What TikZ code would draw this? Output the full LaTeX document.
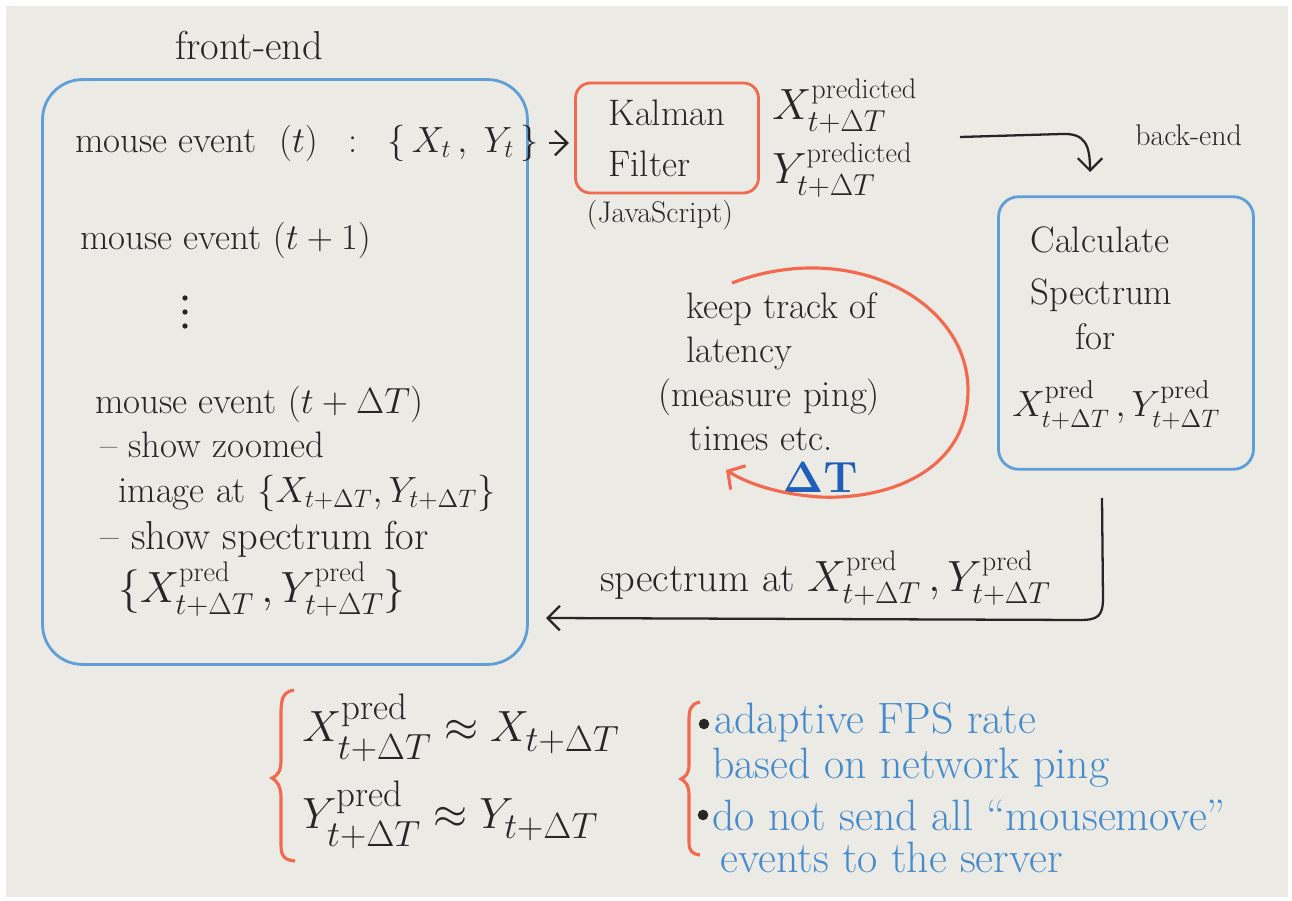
\documentclass[tikz,border=0pt]{standalone}
\usepackage{amsmath}
\usepackage{amssymb}
\usepackage{tikz}
\usetikzlibrary{arrows.meta}
\usetikzlibrary{positioning}
\definecolor{paper}{RGB}{236, 234, 228}
\definecolor{ink}{RGB}{38, 38, 38}
\definecolor{pencilblue}{RGB}{95, 158, 215}
\definecolor{pencilred}{RGB}{242, 105, 80}
\definecolor{deltablue}{RGB}{30, 95, 185}
\definecolor{noteblue}{RGB}{70, 140, 205}
\tikzset{hand/.style = {font = \fontsize{21}{25}\selectfont, text = ink, inner sep = 0, anchor = west}}
\tikzset{big hand/.style = {hand, font = \fontsize{23}{27}\selectfont}}
\tikzset{small hand/.style = {hand, font = \fontsize{17}{20}\selectfont}}
\tikzset{note/.style = {hand, font = \fontsize{25}{29}\selectfont, text = noteblue}}
\tikzset{box/.style = {draw, line width = 1.6pt}}
\tikzset{wire/.style = {draw = ink, line width = 1.3pt, -{Straight Barb[length = 7pt, width = 14pt, line width = 1.3pt]}}}
\tikzset{bullet/.style = {fill = ink, circle, inner sep = 0, minimum size = 6}}
\newcommand{\dT}{_{t+\Delta T}}
\newcommand{\pr}{^{\text{pred}}}

\begin{document}
\begin{tikzpicture}[x = 0.02cm, y = -0.02cm]
  \fill [white] (0, 0) rectangle (1292, 901);
  \fill [paper] (6, 6) rectangle (1288, 897);
  \useasboundingbox (0, 0) rectangle (1292, 901);

  % front-end
  \node [box, draw = pencilblue, minimum width = 9.7cm, minimum height = 11.7cm, rounded corners = 0.8cm] (front) at (285, 372) {};
  \node [big hand] (frontlabel) at (175, 45) {front-end};
  \node [hand] (ev0) at (75, 143) {mouse event\ \ $(t)\;\; : \;\;\{\,X_t\,,\;Y_t\,\}$};
  \node [hand] (ev1) at (80, 240) {mouse event $(t+1)$};
  \foreach \y in {298, 312, 326}
    \node [bullet, minimum size = 3] at (185, \y) {};
  \node [hand] (evdt) at (95, 404) {mouse event $(t+\Delta T)$};
  \node [hand] (zoomed) at (100, 445) {-- show zoomed};
  \node [hand] (image) at (118, 493) {image at $\{X\dT, Y\dT\}$};
  \node [big hand] (show) at (100, 539) {-- show spectrum for};
  \node [big hand] (showxy) at (118, 589) {$\{X\pr\dT\,, Y\pr\dT\}$};

  % kalman
  \node [box, draw = pencilred, minimum width = 3.66cm, minimum height = 2.2cm, rounded corners = 0.3cm, hand, anchor = center, align = left] (kalman) at (667, 138) {Kalman\\[4pt]Filter};
  \node [small hand, anchor = center] (js) at (660, 215) {(JavaScript)};
  \draw [wire, shorten < = 6pt, shorten > = 3pt] (ev0.east) -- (kalman.west |- ev0.east);
  \node [big hand] (xpred) at (772, 106) {$X^{\text{predicted}}_{t+\Delta T}$};
  \node [big hand] (ypred) at (772, 170) {$Y^{\text{predicted}}_{t+\Delta T}$};

  % back-end
  \coordinate (predout) at (960, 137);
  \coordinate (backin) at (1090, 172);
  \draw [wire] (predout) -- (1062, 134) .. controls (1085, 133) and (1090, 145) .. (backin);
  \node [small hand] (backend) at (1135, 135) {back-end};
  \node [box, draw = pencilblue, minimum width = 5.1cm, minimum height = 5.45cm, rounded corners = 0.4cm] (calc) at (1126, 333) {};
  \node [hand] (calc1) at (1030, 240) {Calculate};
  \node [hand] (calc2) at (1030, 295) {Spectrum};
  \node [hand] (calc3) at (1075, 337) {for};
  \node [hand] (calc4) at (1012, 405) {$X\pr\dT\,, Y\pr\dT$};

  % latency loop
  \node [hand, align = left] (latency) at (658, 372) {\hspace{16pt}keep track of\\\hspace{16pt}latency\\(measure ping)\\\hspace{18pt}times etc.};
  \node [hand, text = deltablue, font = \fontsize{26}{30}\selectfont] (delta) at (782, 478) {$\boldsymbol{\Delta} \mathbf{T}$};
  \draw [pencilred, line width = 1.8pt, -{Straight Barb[length = 7pt, width = 16pt, line width = 1.8pt]}] (732, 283) .. controls (850, 238) and (968, 300) .. (968, 390) .. controls (968, 470) and (890, 500) .. (820, 497) .. controls (775, 494) and (745, 482) .. (726, 470);

  % return
  \coordinate (backout) at (1102, 498);
  \coordinate (frontin) at (546, 618);
  \draw [wire] (backout) -- (1103, 598) .. controls (1103, 616) and (1098, 620) .. (1080, 620) -- (frontin);
  \node [big hand] (spec) at (600, 578) {spectrum at $X\pr\dT\,, Y\pr\dT$};

  % bottom
  \node [hand, font = \fontsize{30}{34}\selectfont] (approxx) at (302, 728) {$X\pr\dT \approx X\dT$};
  \node [hand, font = \fontsize{30}{34}\selectfont] (approxy) at (302, 815) {$Y\pr\dT \approx Y\dT$};
  \draw [pencilred, line width = 1.8pt] (294, 690) .. controls (282, 692) and (281, 700) .. (281, 715) -- (281, 760) .. controls (281, 772) and (277, 776) .. (272, 778) .. controls (277, 781) and (281, 786) .. (281, 798) -- (281, 845) .. controls (281, 857) and (285, 860) .. (295, 861);
  \draw [pencilred, line width = 1.8pt] (700, 702) .. controls (690, 704) and (689, 710) .. (689, 722) -- (689, 765) .. controls (689, 774) and (685, 777) .. (681, 779) .. controls (685, 781) and (689, 785) .. (689, 795) -- (689, 842) .. controls (689, 851) and (692, 854) .. (700, 855);
  \node [bullet] (dot1) at (704, 724) {};
  \node [bullet] (dot2) at (703, 815) {};
  \node [note] (fps) at (714, 722) {adaptive FPS rate};
  \node [note] (ping) at (712, 768) {based on network ping};
  \node [note] (send) at (712, 815) {do not send all ``mousemove''};
  \node [note] (server) at (720, 857) {events to the server};
\end{tikzpicture}
\end{document}
